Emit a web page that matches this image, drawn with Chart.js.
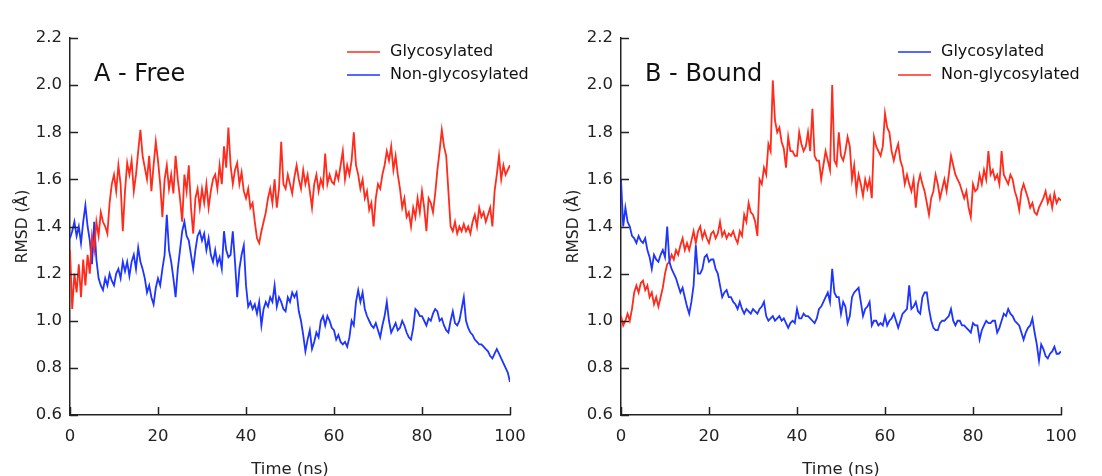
<!DOCTYPE html>
<html lang="en">
<head>
    <meta charset="UTF-8">
    <script src="https://cdn.jsdelivr.net/npm/chart.js"></script>
    <title>RMSD - Free vs Bound</title>
    <style>
        html, body { margin: 0; padding: 0; background: #fff; overflow: hidden; }
        #wrap { position: relative; width: 1102px; height: 476px; overflow: hidden; }
        .panel { position: absolute; top: 0; width: 551px; height: 484px; }
    </style>
</head>
<body>
<div id="wrap">
    <div class="panel" style="left:0"><canvas id="chartA"></canvas></div>
    <div class="panel" style="left:551px"><canvas id="chartB"></canvas></div>
</div>
<script>
// tick labels
var xTicks = [0, 20, 40, 60, 80, 100];
var yTicks = [0.6, 0.8, 1.0, 1.2, 1.4, 1.6, 1.8, 2.0, 2.2];

// sampling times, every 0.5 ns from 0 to 100
var times = [];
for (var i = 0; i <= 200; i++) times.push(i / 2);

// A - Free
var freeGly = [
    1.30, 1.05, 1.20, 1.12, 1.24, 1.10, 1.26, 1.15, 1.28, 1.20,
    1.36, 1.30, 1.42, 1.36, 1.46, 1.42, 1.40, 1.37, 1.50, 1.58,
    1.62, 1.55, 1.66, 1.58, 1.38, 1.55, 1.67, 1.62, 1.68, 1.55,
    1.62, 1.72, 1.81, 1.70, 1.65, 1.60, 1.70, 1.55, 1.66, 1.76,
    1.68, 1.58, 1.44, 1.60, 1.66, 1.56, 1.62, 1.54, 1.70, 1.60,
    1.52, 1.42, 1.62, 1.55, 1.66, 1.48, 1.37, 1.52, 1.56, 1.48,
    1.56, 1.50, 1.58, 1.48, 1.55, 1.60, 1.62, 1.56, 1.66, 1.58,
    1.74, 1.65, 1.82, 1.66, 1.58, 1.64, 1.67, 1.58, 1.63, 1.55,
    1.52, 1.56, 1.48, 1.50, 1.42, 1.35, 1.33, 1.38, 1.42, 1.46,
    1.52, 1.56, 1.50, 1.60, 1.48, 1.56, 1.76, 1.58, 1.56, 1.62,
    1.58, 1.54, 1.61, 1.66, 1.60, 1.56, 1.64, 1.58, 1.62, 1.55,
    1.48, 1.58, 1.62, 1.55, 1.60, 1.57, 1.71, 1.58, 1.62, 1.59,
    1.58, 1.63, 1.60, 1.66, 1.72, 1.60, 1.66, 1.62, 1.68, 1.80,
    1.66, 1.62, 1.56, 1.60, 1.52, 1.55, 1.47, 1.50, 1.40, 1.52,
    1.58, 1.56, 1.62, 1.66, 1.72, 1.68, 1.74, 1.64, 1.70, 1.62,
    1.56, 1.48, 1.52, 1.44, 1.46, 1.40, 1.48, 1.44, 1.52, 1.46,
    1.55, 1.48, 1.38, 1.52, 1.50, 1.46, 1.54, 1.64, 1.72, 1.81,
    1.74, 1.70, 1.55, 1.40, 1.38, 1.42, 1.37, 1.40, 1.38, 1.41,
    1.38, 1.40, 1.37, 1.42, 1.45, 1.40, 1.48, 1.44, 1.46, 1.42,
    1.45, 1.48, 1.40, 1.55, 1.62, 1.70, 1.60, 1.66, 1.62, 1.64,
    1.66
];
var freeNon = [
    1.35, 1.38, 1.42, 1.36, 1.40, 1.33, 1.42, 1.49, 1.40, 1.34,
    1.24, 1.42, 1.26, 1.18, 1.15, 1.13, 1.18, 1.15, 1.20, 1.17,
    1.15, 1.20, 1.22, 1.18, 1.25, 1.21, 1.25, 1.19, 1.25, 1.28,
    1.22, 1.31, 1.25, 1.22, 1.18, 1.12, 1.15, 1.10, 1.07, 1.14,
    1.18, 1.15, 1.22, 1.28, 1.45, 1.30, 1.25, 1.18, 1.10, 1.22,
    1.30, 1.38, 1.42, 1.36, 1.34, 1.28, 1.22, 1.30, 1.36, 1.38,
    1.34, 1.37, 1.30, 1.35, 1.28, 1.25, 1.30, 1.24, 1.27, 1.22,
    1.38, 1.30, 1.27, 1.28, 1.38, 1.25, 1.10, 1.22, 1.28, 1.32,
    1.15, 1.06, 1.08, 1.05, 1.07, 1.03, 1.08, 0.98, 1.05, 1.08,
    1.06, 1.10, 1.08, 1.15, 1.06, 1.10, 1.08, 1.05, 1.04, 1.10,
    1.08, 1.12, 1.10, 1.12, 1.04, 1.00, 0.94, 0.87, 0.92, 0.96,
    0.88, 0.91, 0.95, 0.93, 1.00, 1.02, 0.98, 1.02, 1.00, 0.97,
    0.96, 0.92, 0.94, 0.91, 0.90, 0.91, 0.89, 0.93, 1.00, 0.98,
    1.08, 1.13, 1.08, 1.12, 1.05, 1.02, 1.00, 0.98, 0.97, 0.99,
    0.96, 0.93, 0.98, 1.02, 1.08, 1.00, 0.95, 0.97, 0.99, 0.96,
    0.97, 1.00, 0.98, 0.95, 0.93, 0.92, 0.97, 1.05, 1.04, 1.02,
    1.02, 1.00, 0.98, 1.01, 1.00, 1.03, 1.05, 1.04, 1.00, 1.01,
    0.98, 0.96, 0.95, 1.00, 1.04, 0.99, 0.98, 1.00, 1.05, 1.10,
    1.00, 0.97, 0.95, 0.94, 0.92, 0.91, 0.90, 0.90, 0.89, 0.88,
    0.87, 0.85, 0.84, 0.86, 0.88, 0.86, 0.84, 0.82, 0.80, 0.78,
    0.74
];

// B - Bound
var boundGly = [
    1.60, 1.40, 1.48, 1.42, 1.40, 1.36, 1.35, 1.33, 1.36, 1.34,
    1.33, 1.35, 1.30, 1.27, 1.22, 1.28, 1.26, 1.25, 1.28, 1.30,
    1.27, 1.40, 1.25, 1.22, 1.20, 1.18, 1.15, 1.12, 1.14, 1.10,
    1.06, 1.03, 1.08, 1.15, 1.32, 1.20, 1.20, 1.22, 1.27, 1.28,
    1.25, 1.26, 1.26, 1.22, 1.20, 1.15, 1.10, 1.12, 1.13, 1.10,
    1.10, 1.08, 1.07, 1.05, 1.08, 1.05, 1.03, 1.05, 1.04, 1.03,
    1.05, 1.04, 1.03, 1.05, 1.06, 1.08, 1.02, 1.00, 1.01, 1.02,
    1.00, 1.01, 1.02, 1.00, 1.01, 0.99, 0.97, 0.99, 1.00, 0.99,
    1.05, 1.01, 1.01, 1.03, 1.02, 1.02, 1.01, 1.00, 0.99, 1.01,
    1.05, 1.06, 1.08, 1.10, 1.12, 1.08, 1.22, 1.12, 1.10, 1.10,
    1.03, 1.08, 1.06, 0.99, 1.02, 1.10, 1.12, 1.13, 1.14, 1.08,
    1.02, 1.05, 1.06, 1.08, 0.98, 1.00, 1.00, 0.98, 0.99, 0.98,
    1.02, 0.98, 1.00, 1.01, 1.03, 1.00, 0.97, 1.00, 1.03, 1.04,
    1.05, 1.15, 1.05, 1.06, 1.08, 1.04, 1.03, 1.10, 1.12, 1.12,
    1.05, 1.00, 0.97, 0.96, 0.96, 0.99, 1.00, 1.00, 1.01, 1.02,
    1.05, 1.00, 0.98, 1.00, 1.00, 0.98, 0.98, 0.97, 0.96, 0.95,
    0.99, 0.98, 0.98, 0.92, 0.96, 0.98, 1.00, 0.99, 0.99, 1.00,
    1.00, 0.95, 0.97, 1.00, 1.03, 1.02, 1.05, 1.03, 1.02, 1.00,
    0.99, 0.98, 0.95, 0.92, 0.95, 0.97, 0.98, 1.01, 0.95, 0.90,
    0.83, 0.90, 0.88, 0.85, 0.84, 0.86, 0.87, 0.89, 0.86, 0.86,
    0.87
];
var boundNon = [
    1.02, 0.98, 1.00, 1.03, 1.00, 1.05, 1.12, 1.15, 1.12, 1.16,
    1.17, 1.13, 1.15, 1.10, 1.12, 1.07, 1.10, 1.06, 1.10, 1.14,
    1.20, 1.24, 1.25, 1.28, 1.26, 1.30, 1.28, 1.32, 1.35, 1.30,
    1.33, 1.30, 1.34, 1.38, 1.33, 1.38, 1.40, 1.35, 1.38, 1.35,
    1.33, 1.37, 1.38, 1.35, 1.37, 1.42, 1.36, 1.38, 1.35, 1.37,
    1.36, 1.38, 1.35, 1.33, 1.38, 1.36, 1.45, 1.42, 1.50, 1.46,
    1.45, 1.42, 1.36, 1.60, 1.58, 1.65, 1.62, 1.75, 1.72, 2.02,
    1.85, 1.80, 1.82, 1.76, 1.73, 1.65, 1.78, 1.72, 1.72, 1.70,
    1.70, 1.80, 1.75, 1.72, 1.74, 1.80, 1.72, 1.90, 1.70, 1.68,
    1.68, 1.60, 1.66, 1.72, 1.68, 1.64, 2.00, 1.68, 1.66, 1.80,
    1.70, 1.68, 1.72, 1.78, 1.74, 1.60, 1.66, 1.55, 1.62, 1.58,
    1.53, 1.60, 1.56, 1.60, 1.52, 1.78, 1.74, 1.72, 1.70, 1.74,
    1.88, 1.82, 1.80, 1.72, 1.68, 1.72, 1.75, 1.68, 1.65, 1.58,
    1.62, 1.58, 1.55, 1.60, 1.48, 1.58, 1.62, 1.58, 1.55, 1.50,
    1.45, 1.52, 1.55, 1.62, 1.58, 1.52, 1.56, 1.60, 1.55, 1.62,
    1.70, 1.66, 1.62, 1.60, 1.58, 1.55, 1.52, 1.55, 1.48, 1.44,
    1.58, 1.55, 1.56, 1.62, 1.58, 1.64, 1.60, 1.72, 1.62, 1.64,
    1.60, 1.62, 1.58, 1.72, 1.62, 1.60, 1.58, 1.62, 1.60, 1.55,
    1.52, 1.47, 1.55, 1.58, 1.55, 1.52, 1.48, 1.50, 1.46, 1.45,
    1.48, 1.50, 1.52, 1.55, 1.50, 1.53, 1.48, 1.54, 1.50, 1.52,
    1.51
];

var RED = '#ff2b1c';
var BLUE = '#1e34ff';
var INK = '#222';
var FONT = "'DejaVu Sans', sans-serif";

function pts(values) {
    return values.map(function (v, i) { return { x: times[i], y: v }; });
}

// inner tick marks, legend in the plot corner, panel letter
var decor = {
    id: 'decor',
    afterDraw: function (chart, args, opts) {
        var ctx = chart.ctx;
        var xs = chart.scales.x, ys = chart.scales.y;
        var a = chart.chartArea;
        ctx.save();
        ctx.strokeStyle = INK;
        ctx.lineWidth = 1.5;
        ctx.beginPath();
        yTicks.forEach(function (v) {
            var y = Math.round(ys.getPixelForValue(v)) + 0.5;
            ctx.moveTo(a.left, y);
            ctx.lineTo(a.left + 8, y);
        });
        xTicks.forEach(function (v) {
            var x = Math.round(xs.getPixelForValue(v)) + 0.5;
            ctx.moveTo(x, a.bottom);
            ctx.lineTo(x, a.bottom - 8);
        });
        ctx.stroke();

        ctx.fillStyle = '#111';
        ctx.font = '24px ' + FONT;
        ctx.textBaseline = 'middle';
        ctx.textAlign = 'left';
        ctx.fillText(opts.panel, a.left + 24, 75);

        ctx.font = '16px ' + FONT;
        chart.data.datasets.forEach(function (ds, k) {
            var y = 52 + k * 23;
            ctx.strokeStyle = ds.borderColor;
            ctx.lineWidth = 1.5;
            ctx.beginPath();
            ctx.moveTo(a.left + 277, y);
            ctx.lineTo(a.left + 310, y);
            ctx.stroke();
            ctx.fillStyle = '#111';
            ctx.fillText(ds.label, a.left + 320, y);
        });
        ctx.restore();
    }
};

function makeChart(id, panel, first, second) {
    return new Chart(document.getElementById(id), {
        type: 'line',
        data: { datasets: [first, second] },
        plugins: [decor],
        options: {
            responsive: true,
            maintainAspectRatio: false,
            animation: false,
            layout: { padding: { left: 0, right: 41, top: 38, bottom: 0 } },
            elements: { point: { radius: 0 }, line: { borderWidth: 1.8, tension: 0 } },
            plugins: {
                legend: { display: false },
                tooltip: { enabled: false },
                decor: { panel: panel }
            },
            scales: {
                x: {
                    type: 'linear', min: 0, max: 100,
                    afterBuildTicks: function (s) { s.ticks = xTicks.map(function (v) { return { value: v }; }); },
                    afterFit: function (s) { s.height = 69; },
                    grid: { display: false, drawTicks: false, tickLength: 0 },
                    border: { display: true, color: INK, width: 1.5 },
                    ticks: { color: INK, padding: 12, maxRotation: 0, font: { family: FONT, size: 16.5 } },
                    title: { display: true, text: 'Time (ns)', color: INK, padding: { top: 0, bottom: 4 }, font: { family: FONT, size: 16.5 } }
                },
                y: {
                    type: 'linear', min: 0.6, max: 2.2,
                    afterBuildTicks: function (s) { s.ticks = yTicks.map(function (v) { return { value: v }; }); },
                    afterFit: function (s) { s.width = 70; },
                    grid: { display: false, drawTicks: false, tickLength: 0 },
                    border: { display: true, color: INK, width: 1.5 },
                    ticks: {
                        color: INK, padding: 8, font: { family: FONT, size: 16.5 },
                        callback: function (v) { return v.toFixed(1); }
                    },
                    title: { display: true, text: 'RMSD (Å)', color: INK, padding: { top: 14, bottom: 0 }, font: { family: FONT, size: 15.5 } }
                }
            }
        }
    });
}

makeChart('chartA', 'A - Free',
    { label: 'Glycosylated', data: pts(freeGly), borderColor: RED },
    { label: 'Non-glycosylated', data: pts(freeNon), borderColor: BLUE });

makeChart('chartB', 'B - Bound',
    { label: 'Glycosylated', data: pts(boundGly), borderColor: BLUE },
    { label: 'Non-glycosylated', data: pts(boundNon), borderColor: RED });
</script>
</body>
</html>
